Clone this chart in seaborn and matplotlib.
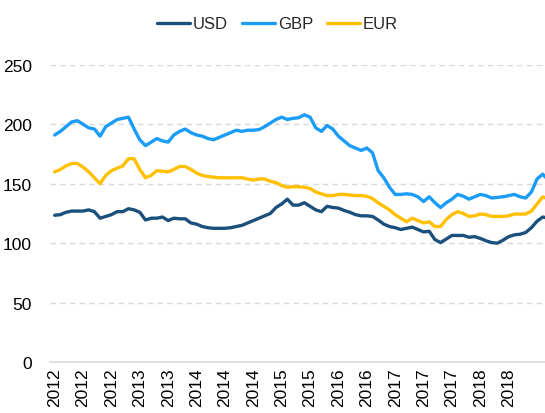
import pandas as pd
import matplotlib.pyplot as plt
import numpy as np
import seaborn as sns

# monthly values, Jan 2012 onwards
usd = [123.5, 124, 126, 127, 127, 127, 128, 126.5, 121, 122.5,
       124, 126.5, 126.5, 129, 128, 126, 119.5, 121, 121, 122,
       119, 121, 120.5, 120.5, 117, 116, 114, 113, 112.5, 112.5,
       112.5, 113, 114, 115, 117, 119, 121, 123, 125, 130,
       133, 137, 132, 132, 134, 131, 128, 126.5, 131, 130,
       129.5, 127.5, 126, 124, 123, 123, 122.5, 119.5, 116, 114,
       113, 111.5, 112.5, 113.5, 111.5, 109.5, 110, 103, 100.5, 103.5,
       106.5, 106.5, 106.5, 105, 105.5, 104, 102, 100.5, 100, 102.5,
       105.5, 107, 107.5, 109, 113, 118.5, 122, 121]
gbp = [191, 194, 198, 202, 203, 200, 197, 196, 190, 198,
       201, 204, 205, 206, 196, 187, 182, 185, 188, 186,
       185, 191, 194, 196, 193, 191, 190, 188, 187, 189,
       191, 193, 195, 194, 195, 195, 195.5, 198, 201, 204,
       206, 204, 205, 205.5, 208, 206, 197, 194, 199, 196,
       190, 186, 182, 180, 178, 180, 176, 161, 155, 147,
       141, 141, 141.5, 141, 139, 135, 139, 134, 130, 134,
       137, 141, 139.5, 137, 139, 141, 140, 138, 138.5, 139,
       140, 141, 139, 138, 143, 154, 158, 153]
eur = [160, 162, 165, 167, 167, 164, 160, 155, 150, 157,
       161, 163, 165, 171, 171, 162, 155, 157, 161, 160.5,
       160, 162, 164.5, 164.5, 162, 159, 157, 156, 155.5, 155,
       155, 155, 155, 155, 154, 153, 154, 154, 152, 151,
       148.5, 147, 147.5, 147.5, 147, 146, 143, 141.5, 140, 140,
       141, 141, 140.5, 140, 140, 139.5, 137.5, 134, 131, 128,
       124, 121, 118, 121, 119, 117, 118, 114, 114, 120,
       124, 126.5, 125, 122.5, 123, 124.5, 124, 122.5, 122.5, 122.5,
       123, 124.5, 124.5, 124.5, 127, 133, 139, 137]

months = pd.date_range('2012-01-01', periods=len(usd), freq='MS')
tick_idx = list(range(0, 81, 5))
tick_labels = [str(months[i].year) for i in tick_idx]

df = pd.DataFrame({'t': np.arange(len(usd)), 'USD': usd, 'GBP': gbp, 'EUR': eur})
long_df = df.melt(id_vars='t', var_name='ccy', value_name='val')

sns.set_style('white')
plt.rcParams['font.family'] = ['Liberation Sans', 'DejaVu Sans']

fig = plt.figure(figsize=(5.45, 4.14), dpi=100)
ax = fig.add_axes([0.092, 0.123, 0.908, 0.718])

pal = {'USD': '#1b4f7c', 'GBP': '#1a9cf7', 'EUR': '#ffc000'}
sns.lineplot(data=long_df, x='t', y='val', hue='ccy', palette=pal,
             linewidth=2.4, ax=ax)

ax.set_ylim(0, 250)
ax.set_xlim(-0.8, 86.4)
ax.set_yticks([0, 50, 100, 150, 200, 250])
ax.set_xticks(tick_idx)
ax.set_xticklabels(tick_labels, rotation=90)
ax.tick_params(axis='both', length=0, labelsize=12.5, colors='#000000')
ax.tick_params(axis='y', pad=13)
ax.tick_params(axis='x', pad=4)
ax.set_xlabel('')
ax.set_ylabel('')

for v in [50, 100, 150, 200, 250]:
    ax.axhline(v, color='#d9d9d9', lw=1, ls=(0, (4, 3)), zorder=0)

for s in ['top', 'right', 'left']:
    ax.spines[s].set_visible(False)
ax.spines['bottom'].set_color('#d9d9d9')
ax.spines['bottom'].set_linewidth(1.2)

ax.legend_.remove()
h, l = ax.get_legend_handles_labels()
fig.legend(h, l, loc='center', bbox_to_anchor=(0.509, 0.94), ncol=3,
           frameon=False, handlelength=2.0, handletextpad=0.15,
           columnspacing=0.85,
           prop={'family': ['Liberation Sans Narrow', 'Liberation Sans'],
                 'size': 12})

fig.savefig('out.png', dpi=100)
